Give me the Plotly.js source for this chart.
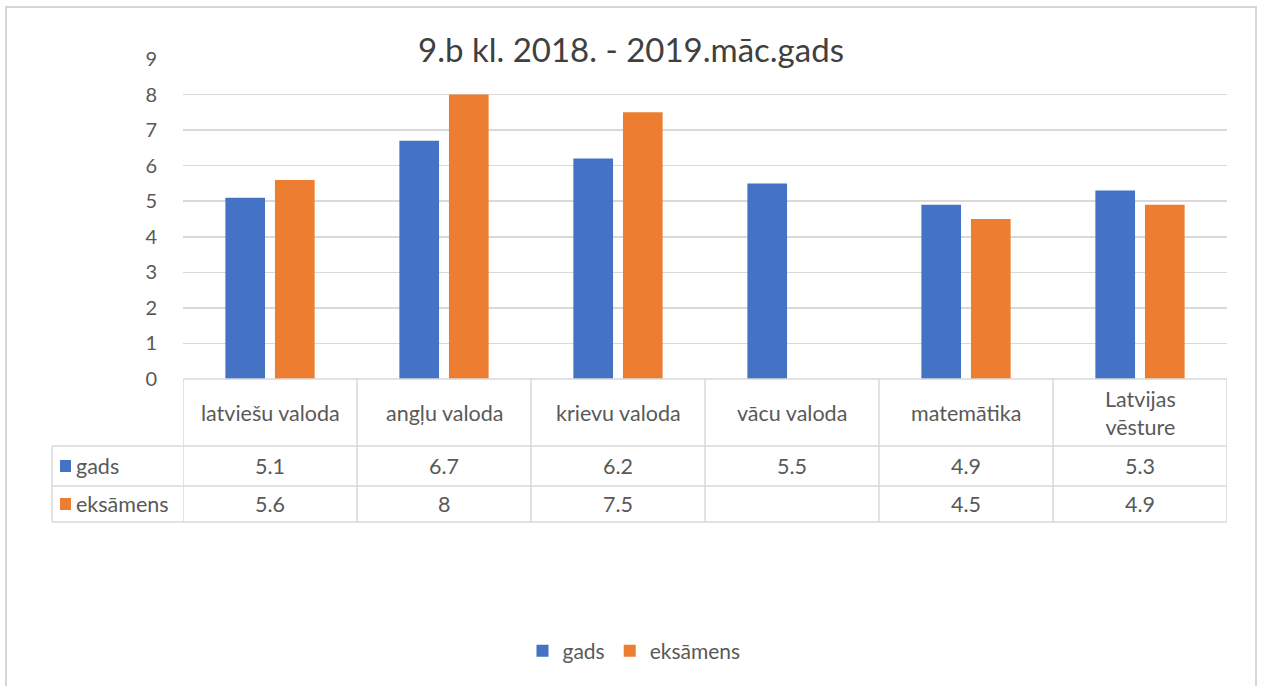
<!DOCTYPE html>
<html>
<head>
<meta charset="utf-8">
<script src="https://cdn.plot.ly/plotly-3.0.1.min.js"></script>
<style>
html,body{margin:0;padding:0;background:#fff;}
#chart{width:1263px;height:686px;}
</style>
</head>
<body>
<div id="chart"></div>
<script>
var categories = ['latviešu valoda', 'angļu valoda', 'krievu valoda', 'vācu valoda', 'matemātika', 'Latvijas vēsture'];
var seriesNames = ['gads', 'eksāmens'];
var gads = [5.1, 6.7, 6.2, 5.5, 4.9, 5.3];
var eksamens = [5.6, 8, 7.5, null, 4.5, 4.9];
var colors = ['#4472C4', '#ED7D31'];
var titleText = '9.b kl. 2018. - 2019.māc.gads';

var W = 1263, H = 686;
var L = 183, R = 1227, T = 59, B = 379;
var pw = R - L, ph = B - T;
function px(p){ return (p - L) / pw; }
function py(p){ return (B - p) / ph; }

var font = 'Lato, "Open Sans", "Liberation Sans", sans-serif';
var textColor = '#595959';
var lineColor = '#d9d9d9';
var tSize = 21.5;

var seriesVals = [gads, eksamens];
var traces = seriesVals.map(function(v, i){
  return {type:'bar', x:categories, y:v, name:seriesNames[i], marker:{color:colors[i]}, hoverinfo:'x+y'};
});

function wrap(s){
  if (s.length > 15) { var k = s.indexOf(' '); return s.slice(0,k) + '<br>' + s.slice(k+1); }
  return s;
}

var annotations = [];
var rowY = [py(466), py(504)];
categories.forEach(function(c, i){
  annotations.push({xref:'x', yref:'paper', x:i, y:py(413), text:wrap(c), showarrow:false,
    font:{family:font, size:tSize, color:textColor}, xanchor:'center', yanchor:'middle'});
  seriesVals.forEach(function(v, s){
    if (v[i] !== null && v[i] !== undefined) {
      annotations.push({xref:'x', yref:'paper', x:i, y:rowY[s], text:String(v[i]), showarrow:false,
        font:{family:font, size:tSize, color:textColor}, xanchor:'center', yanchor:'middle'});
    }
  });
});
var shapes = [];
seriesNames.forEach(function(n, s){
  annotations.push({xref:'paper', yref:'paper', x:px(74), y:rowY[s], xanchor:'left', yanchor:'middle', showarrow:false,
    text:n, font:{family:font, size:tSize, color:textColor}});
  shapes.push({type:'rect', xref:'paper', yref:'paper', x0:px(60), x1:px(71), y0:rowY[s]-6/ph, y1:rowY[s]+6/ph,
    fillcolor:colors[s], line:{width:0}});
});

// outer frame
shapes.push({type:'rect', xref:'paper', yref:'paper', x0:px(6), x1:px(1256), y0:py(692), y1:py(7), line:{color:'#d6d6d6', width:2}, layer:'below'});
// table horizontal lines
shapes.push({type:'line', xref:'paper', yref:'paper', x0:0, x1:1, y0:0, y1:0, line:{color:lineColor, width:1.5}});
[446, 486, 522].forEach(function(yy){
  shapes.push({type:'line', xref:'paper', yref:'paper', x0:px(52), x1:1, y0:py(yy), y1:py(yy), line:{color:lineColor, width:1.5}});
});
// vertical lines
shapes.push({type:'line', xref:'paper', yref:'paper', x0:px(52), x1:px(52), y0:py(446), y1:py(522), line:{color:lineColor, width:1.5}});
for (var i = 0; i <= categories.length; i++) {
  shapes.push({type:'line', xref:'x', yref:'paper', x0:i-0.5, x1:i-0.5, y0:0, y1:py(522), line:{color:lineColor, width:1.5}});
}

var layout = {
  width:W, height:H,
  margin:{l:L, r:W-R, t:T, b:H-B, pad:0},
  paper_bgcolor:'#ffffff', plot_bgcolor:'#ffffff',
  title:{text:titleText, font:{family:font, size:33, color:'#404040'}, x:(631)/W, xanchor:'center', y:1-50/H, yanchor:'middle', xref:'container', yref:'container'},
  barmode:'group', bargap:0.43, bargroupgap:0.2,
  xaxis:{type:'category', showticklabels:false, showgrid:false, zeroline:false, showline:false, ticks:'', range:[-0.5, categories.length-0.5], fixedrange:true},
  yaxis:{range:[0,9], dtick:1, tick0:0, showgrid:true, gridcolor:lineColor, gridwidth:1.5, zeroline:false, showline:false,
    ticks:'outside', ticklen:21, tickcolor:'rgba(0,0,0,0)', tickfont:{family:font, size:20, color:textColor}, fixedrange:true},
  showlegend:true,
  legend:{orientation:'h', x:px(634), xanchor:'center', y:py(651), yanchor:'middle', font:{family:font, size:21, color:textColor}, itemwidth:30, traceorder:'normal', itemclick:false},
  annotations:annotations,
  shapes:shapes
};

Plotly.newPlot('chart', traces, layout, {displayModeBar:false, staticPlot:true});
</script>
</body>
</html>
